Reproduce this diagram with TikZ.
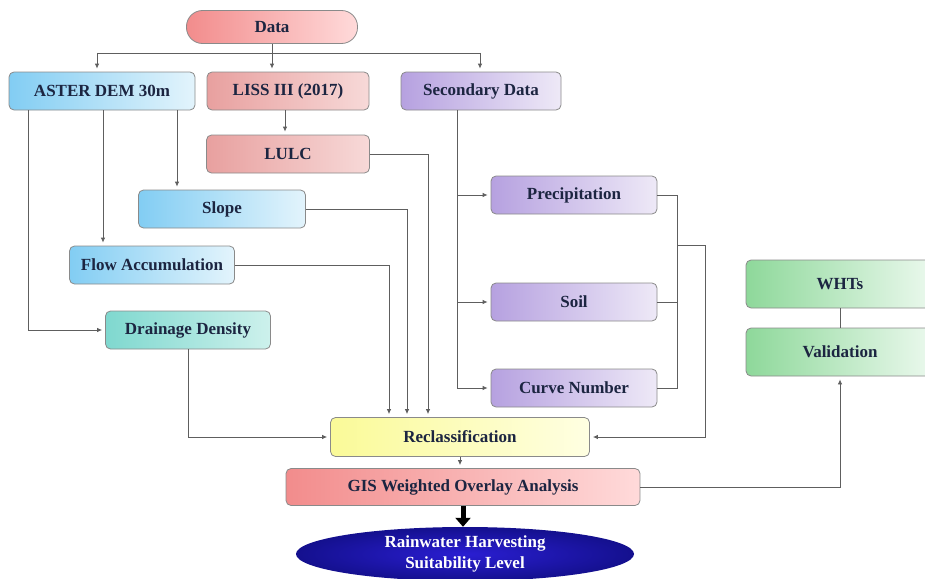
\documentclass[tikz,border=0pt]{standalone}
\usepackage{fontspec}
\setmainfont{Liberation Serif}
\usetikzlibrary{arrows.meta,shapes.geometric}

\definecolor{txt}{HTML}{1C2541}
\definecolor{lnc}{HTML}{5E5E5E}
\definecolor{edge}{HTML}{8A8A8A}
\definecolor{blueL}{HTML}{82CDF3}
\definecolor{blueR}{HTML}{E3F4FC}
\definecolor{pinkL}{HTML}{E8A09F}
\definecolor{pinkR}{HTML}{F7D9D8}
\definecolor{purpL}{HTML}{B6A1E0}
\definecolor{purpR}{HTML}{EEE9F7}
\definecolor{tealL}{HTML}{7FD8CF}
\definecolor{tealR}{HTML}{CDF1EC}
\definecolor{greenL}{HTML}{8ED89A}
\definecolor{greenR}{HTML}{ECF9EE}
\definecolor{yellL}{HTML}{FAFA98}
\definecolor{yellR}{HTML}{FFFFE2}
\definecolor{redL}{HTML}{F28C8C}
\definecolor{redR}{HTML}{FFDADA}
\definecolor{ellIn}{HTML}{2A1ED2}
\definecolor{ellOut}{HTML}{14108E}

\tikzset{
  box/.style={draw=edge, line width=0.8pt, rounded corners=5pt, inner sep=0pt,
    minimum height=38pt, text=txt,
    font=\bfseries\fontsize{17}{19}\selectfont},
  bluebox/.style={box, left color=blueL, right color=blueR},
  pinkbox/.style={box, left color=pinkL, right color=pinkR},
  purplebox/.style={box, left color=purpL, right color=purpR},
  tealbox/.style={box, left color=tealL, right color=tealR},
  greenbox/.style={box, left color=greenL, right color=greenR, minimum height=48pt},
  yellowbox/.style={box, left color=yellL, right color=yellR},
  redbox/.style={box, left color=redL, right color=redR},
  conn/.style={draw=lnc, line width=0.8pt},
  arr/.style={conn, -{Latex[length=5pt,width=4.5pt]}, shorten >=3pt},
  fat/.style={line width=5pt, black, -{Triangle[length=9pt,width=15pt]}}
}

\begin{document}
\begin{tikzpicture}[x=1pt,y=-1pt]
\useasboundingbox (0,0) rectangle (925,578);

% top source
\node[box, rounded corners=16pt, minimum width=171pt, minimum height=33pt,
      left color=redL, right color=redR] (data) at (272,27) {Data};

% first row
\node[bluebox, minimum width=186pt] (aster) at (102,91) {ASTER DEM 30m};
\node[pinkbox, minimum width=162pt] (liss) at (288,91) {LISS III (2017)};
\node[purplebox, minimum width=160pt] (sec) at (481,91) {Secondary Data};

% derived layers
\node[pinkbox, minimum width=163pt] (lulc) at (288,154) {LULC};
\node[bluebox, minimum width=167pt] (slope) at (222,209) {Slope};
\node[bluebox, minimum width=165pt] (flow) at (152,265) {Flow Accumulation};
\node[tealbox, minimum width=165pt] (drain) at (188,330) {Drainage Density};

\node[purplebox, minimum width=166pt] (precip) at (574,195) {Precipitation};
\node[purplebox, minimum width=166pt] (soil) at (574,302) {Soil};
\node[purplebox, minimum width=166pt] (curve) at (574,388) {Curve Number};

% validation column
\node[greenbox, minimum width=188pt] (whts) at (840,284) {WHTs};
\node[greenbox, minimum width=188pt] (valid) at (840,352) {Validation};

% processing chain
\node[yellowbox, minimum width=259pt, minimum height=39pt] (reclass) at (460,437) {Reclassification};
\node[redbox, minimum width=354pt, minimum height=37pt] (gis) at (463,487) {GIS Weighted Overlay Analysis};
\node[ellipse, inner sep=0pt, minimum width=338pt, minimum height=54pt,
      inner color=ellIn, outer color=ellOut,
      text=white, align=center, font=\bfseries\fontsize{17}{21}\selectfont]
      (out) at (465,554) {Rainwater Harvesting\\Suitability Level};

% distribution bus under Data
\coordinate (busL) at (97,53);
\coordinate (busR) at (480,53);
\draw[conn] (data.south) -- (data.south |- busL);
\draw[conn] (busL) -- (busR);
\draw[arr] (busL) -- (busL |- aster.north);
\draw[arr] (data.south |- busL) -- (data.south |- liss.north);
\draw[arr] (busR) -- (busR |- sec.north);

% LISS -> LULC
\draw[arr] ([xshift=-3pt]liss.south) -- ([xshift=-3pt]liss.south |- lulc.north);

% ASTER DEM derivatives
\draw[arr] ([xshift=-74pt]aster.south) |- (drain.west);
\draw[arr] ([xshift=1pt]aster.south) -- ([xshift=1pt]aster.south |- flow.north);
\draw[arr] ([xshift=75pt]aster.south) -- ([xshift=75pt]aster.south |- slope.north);

% layers into reclassification
\draw[arr] (lulc.east) -| ([xshift=-32pt]reclass.north);
\draw[arr] (slope.east) -| ([xshift=-53pt]reclass.north);
\draw[arr] (flow.east) -| ([xshift=-71pt]reclass.north);
\draw[arr] (drain.south) |- (reclass.west);

% secondary data branches
\coordinate (s0) at ([xshift=-24pt]sec.south);
\draw[arr] (s0) |- (curve.west);
\draw[arr] (s0 |- precip.west) -- (precip.west);
\draw[arr] (s0 |- soil.west) -- (soil.west);

% merge of secondary layers
\coordinate (rb) at (677,245);
\draw[conn] (precip.east) -| (rb |- curve.east) -- (curve.east);
\draw[conn] (soil.east) -- (rb |- soil.east);
\draw[arr] (rb) -- ++(28,0) |- (reclass.east);

% processing chain
\draw[arr] (reclass.south) -- (reclass.south |- gis.north);
\draw[arr] (gis.east) -| (valid.south);
\draw[conn] (whts.south) -- (valid.north);
\draw[fat] (gis.south) -- (gis.south |- out.north);
\end{tikzpicture}
\end{document}
